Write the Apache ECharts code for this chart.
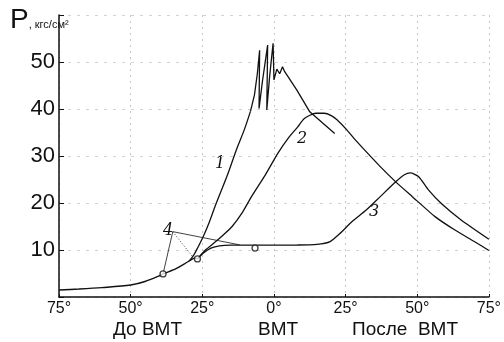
<!DOCTYPE html>
<html>
<head>
<meta charset="utf-8">
<script src="https://cdn.jsdelivr.net/npm/echarts@6/dist/echarts.min.js"></script>
<style>
  html, body { margin: 0; padding: 0; background: #fff; }
  #chart { width: 504px; height: 342px; }
</style>
</head>
<body>
<div id="chart"></div>
<script>
// общее сжатие до точек зажигания
const compX = [-75, -68, -60, -50, -45, -40, -38.7, -34, -30, -27.5, -26.7]
const compP = [1.5, 1.7, 2.0, 2.55, 3.3, 4.5, 4.9, 6.1, 7.5, 8.3, 8.1]

// кривая 1 — подъём
const c1X = [-29.5, -28, -26.5, -24.7, -22.5, -20.6, -18.4, -16.2, -13, -10.4, -8.2]
const c1P = [7.7, 8.9, 10.6, 12.8, 16, 19.2, 22.6, 26, 31.5, 35.5, 39.5]

// кривая 1 — детонационные колебания и расширение
const c1kX = [-8.2, -6.8, -5.8, -5.0, -5.2, -4.0, -2.2, -2.5, -1.5, -0.3, 0, 1, 2, 3, 3.7, 8, 12.5, 17, 21.2]
const c1kP = [39.5, 43, 47.5, 52.5, 40.1, 46, 53.6, 39.8, 47, 54, 46.2, 48.5, 47.5, 49, 48, 44, 39.4, 37, 34.8]

// кривая 2
const c2X = [-26.7, -23.9, -20.3, -17.5, -14.6, -11, -7.9, -3, 1.4, 5, 8.3, 10.6, 14.6, 17.5, 20, 22, 25.5, 28, 31.6, 37, 42.5, 48.2, 56.2, 63, 69.9, 75]
const c2P = [8.1, 10, 11.8, 13.3, 15, 18, 21.3, 26, 30.6, 33.8, 36.2, 38, 39.1, 39.1, 38.6, 37.7, 35.5, 33.7, 31.3, 27.8, 24.5, 21.4, 17.1, 14.3, 11.8, 9.9]

// кривая 3
const c3X = [-26.7, -24.5, -22, -19, -15, -10, -5, 0, 8.2, 15, 19.6, 23, 27, 32.2, 37, 42.5, 45.5, 47.6, 50.5, 53.9, 58.4, 65.3, 75]
const c3P = [8.1, 9.4, 10.4, 10.9, 11.05, 11.05, 11.05, 11.05, 11.06, 11.2, 11.8, 13.5, 15.9, 18.5, 21.3, 24.5, 26, 26.4, 25.6, 22.8, 19.9, 16.4, 12.3]

// кривая 4 (тонкая линия)
const c4X = [-38.7, -35.3, -12]
const c4P = [4.9, 13.9, 11.1]
const c4dotX = [-35.3, -28.4]
const c4dotP = [13.9, 8.6]

// точки зажигания
const sparkX = [-38.7, -26.7, -6.6]
const sparkP = [4.9, 8.1, 10.4]

const xTicks = ['75°', '50°', '25°', '0°', '25°', '50°', '75°']
const yTicks = [10, 20, 30, 40, 50]

const zip = (xs, ys) => xs.map((x, i) => [x, ys[i]])

const narrow = '"Liberation Sans Narrow", "Liberation Sans", Arial, sans-serif'
const hand = '"DejaVu Serif", serif'

const lineSeries = (data, width, smooth, type) => ({
    type: 'line',
    data: data,
    showSymbol: false,
    smooth: smooth,
    lineStyle: { color: '#111', width: width, type: type || 'solid' },
    silent: true,
    z: 3
})

const chart = echarts.init(document.getElementById('chart'))
chart.setOption({
    animation: false,
    grid: { left: 59, right: 9, top: 15, bottom: 45 },
    xAxis: {
        type: 'value',
        min: -75,
        max: 75,
        interval: 25,
        axisLine: { onZero: false, lineStyle: { color: '#111', width: 1.5 } },
        axisTick: { inside: true, length: 3, lineStyle: { color: '#111' } },
        axisLabel: {
            margin: 4,
            fontFamily: narrow,
            fontSize: 16,
            color: '#111',
            formatter: v => xTicks[(v + 75) / 25]
        },
        splitLine: { show: true, lineStyle: { color: '#c4c4c4', type: [2, 4], width: 1 } }
    },
    yAxis: {
        type: 'value',
        min: 0,
        max: 60,
        interval: 10,
        axisLine: { show: true, onZero: false, lineStyle: { color: '#111', width: 1.5 } },
        axisTick: { show: true, inside: true, length: 5, lineStyle: { color: '#111' } },
        axisLabel: {
            margin: 4,
            fontFamily: narrow,
            fontSize: 22,
            color: '#111',
            formatter: v => yTicks.includes(v) ? String(v) : ''
        },
        splitLine: { show: true, lineStyle: { color: '#d2d2d2', type: [3, 6], width: 1 } }
    },
    series: [
        lineSeries(zip(compX, compP), 1.4, 0.3),
        lineSeries(zip(c1X, c1P), 1.3, 0.3),
        lineSeries(zip(c1kX, c1kP), 1.3, false),
        lineSeries(zip(c2X, c2P), 1.3, 0.2),
        lineSeries(zip(c3X, c3P), 1.3, 0.2),
        lineSeries(zip(c4X, c4P), 0.8, false),
        lineSeries(zip(c4dotX, c4dotP), 0.8, false, [1, 2]),
        {
            type: 'scatter',
            data: zip(sparkX, sparkP),
            symbol: 'circle',
            symbolSize: 6,
            itemStyle: { color: '#fff', borderColor: '#111', borderWidth: 1.3 },
            z: 5
        }
    ],
    graphic: [
        {
            type: 'text', left: 10, top: 6,
            style: {
                text: '{p|P}{u|, кгс/см²}',
                rich: {
                    p: { fontFamily: narrow, fontSize: 28, fill: '#111' },
                    u: { fontFamily: narrow, fontSize: 11, fill: '#111', padding: [10, 0, 0, 0] }
                }
            }
        },
        { type: 'text', left: 113, top: 320, style: { text: 'До ВМТ', fontFamily: narrow, fontSize: 19, fill: '#111' } },
        { type: 'text', left: 258, top: 320, style: { text: 'ВМТ', fontFamily: narrow, fontSize: 19, fill: '#111' } },
        { type: 'text', left: 352, top: 320, style: { text: 'После  ВМТ', fontFamily: narrow, fontSize: 19, fill: '#111' } },
        { type: 'text', left: 215, top: 156, style: { text: '1', fontFamily: hand, fontStyle: 'italic', fontSize: 16, fill: '#111' } },
        { type: 'text', left: 297, top: 131, style: { text: '2', fontFamily: hand, fontStyle: 'italic', fontSize: 16, fill: '#111' } },
        { type: 'text', left: 369, top: 204, style: { text: '3', fontFamily: hand, fontStyle: 'italic', fontSize: 16, fill: '#111' } },
        { type: 'text', left: 163, top: 223, style: { text: '4', fontFamily: hand, fontStyle: 'italic', fontSize: 16, fill: '#111' } }
    ]
})
</script>
</body>
</html>
